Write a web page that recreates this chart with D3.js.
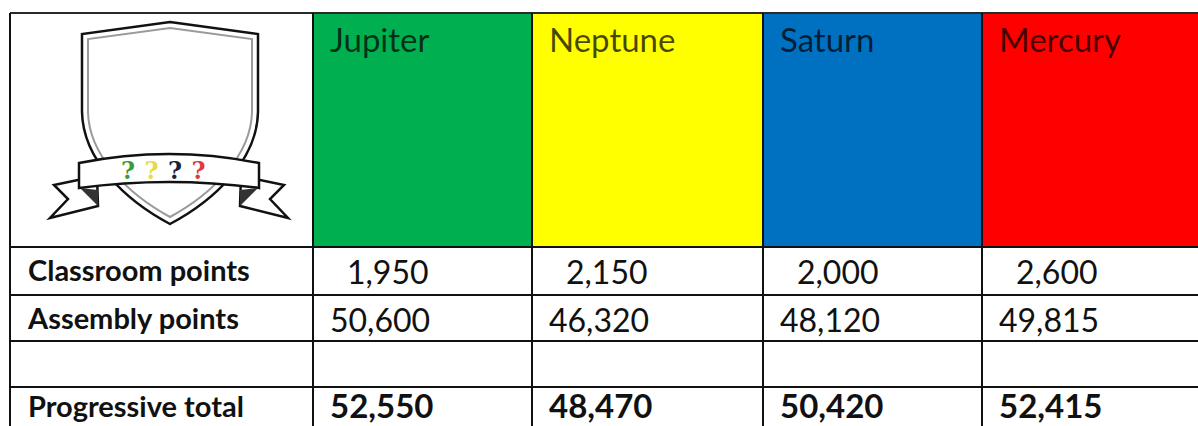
<!DOCTYPE html>
<html>
<head>
<meta charset="utf-8">
<script src="https://cdn.jsdelivr.net/npm/d3@7"></script>
<style>
  html, body { margin: 0; padding: 0; background: #fff; }
  svg { display: block; }
</style>
</head>
<body>
<div id="table-chart"></div>
<script>
// house points table
const planets = ["Jupiter", "Neptune", "Saturn", "Mercury"];
const houseColors = ["#00b050", "#ffff00", "#0070c0", "#ff0000"];
const rowLabels = ["Classroom points", "Assembly points", "", "Progressive total"];
const classroomPoints = [1950, 2150, 2000, 2600];
const assemblyPoints = [50600, 46320, 48120, 49815];
const blankRow = [null, null, null, null];
const progressiveTotals = [52550, 48470, 50420, 52415];
const crestMarks = ["?", "?", "?", "?"];
const crestMarkColors = ["#3c9a3c", "#e8d84a", "#1c1f3a", "#e23a3a"];

(function drawTable() {
  const W = 1198, H = 426;
  const rows = [classroomPoints, assemblyPoints, blankRow, progressiveTotals];

  // column / row geometry (layout only)
  const colKeys = ["label", ...planets];
  const colWidths = [303, 219, 231, 219, 240];
  const rowKeys = ["header", ...rowLabels.map((d, i) => "r" + i)];
  const rowHeights = [234, 48, 46, 46, 52];
  const left = 10, top = 13;

  const colLefts = colWidths.map((w, i) => left + d3.sum(colWidths.slice(0, i)));
  const rowTops = rowHeights.map((h, i) => top + d3.sum(rowHeights.slice(0, i)));
  const x = d3.scaleOrdinal().domain(colKeys).range(colLefts);
  const xw = d3.scaleOrdinal().domain(colKeys).range(colWidths);
  const y = d3.scaleOrdinal().domain(rowKeys).range(rowTops);
  const yh = d3.scaleOrdinal().domain(rowKeys).range(rowHeights);
  const fmt = d3.format(",");

  const svg = d3.select("#table-chart").append("svg")
    .attr("width", W).attr("height", H)
    .style("font-family", "Lato, 'Open Sans', sans-serif");

  svg.append("rect").attr("width", W).attr("height", H).attr("fill", "#fff");

  /* coloured house header cells */
  svg.append("g").selectAll("rect").data(planets).enter().append("rect")
    .attr("x", d => x(d)).attr("y", y("header"))
    .attr("width", d => xw(d)).attr("height", yh("header"))
    .attr("fill", (d, i) => houseColors[i]);

  svg.append("g").selectAll("text").data(planets).enter().append("text")
    .attr("x", d => x(d) + 17).attr("y", y("header") + 39)
    .style("font-size", "33px").attr("fill", "#000").attr("fill-opacity", 0.72)
    .text(d => d);

  /* row labels */
  svg.append("g").selectAll("text").data(rowLabels).enter().append("text")
    .attr("x", x("label") + 18)
    .attr("y", (d, i) => y("r" + i) + (i === 3 ? 30 : 34))
    .style("font-size", "29px").style("font-weight", "bold").attr("fill", "#111")
    .text(d => d);

  /* values */
  rows.forEach((vals, ri) => {
    const bold = ri === 3;
    svg.append("g").selectAll("text").data(vals).enter().append("text")
      .attr("x", (d, i) => x(planets[i]) + (ri === 0 ? 34 : 17))
      .attr("y", y("r" + ri) + (bold ? 31 : 37))
      .style("font-size", bold ? "33px" : "32px")
      .style("font-weight", bold ? "bold" : "normal")
      .attr("fill", "#111")
      .text(d => d == null ? "" : fmt(d));
  });

  /* grid lines */
  const grid = svg.append("g").attr("stroke", "#111").attr("stroke-width", 2);
  grid.selectAll("line.h").data(rowKeys.slice(1)).enter().append("line")
    .attr("x1", left).attr("x2", W)
    .attr("y1", d => y(d)).attr("y2", d => y(d));
  grid.append("line").attr("x1", left).attr("x2", W)
    .attr("y1", top).attr("y2", top).attr("stroke", "#2a2a2a");
  grid.selectAll("line.v").data(colKeys).enter().append("line")
    .attr("x1", d => x(d)).attr("x2", d => x(d))
    .attr("y1", top).attr("y2", H);

  /* crest: shield with banner */
  const crest = svg.append("g");
  const shield = "M170,22 L258,34 L258,112 C257,160 215,200 170,224 C125,200 83,160 82,112 L82,34 Z";
  const inner = "M170,28 L252,39 L252,112 C251,156 212,194 170,217 C128,194 89,156 88,112 L88,39 Z";
  crest.append("path").attr("d", shield).attr("fill", "#fff").attr("stroke", "#111").attr("stroke-width", 2.5);
  crest.append("path").attr("d", inner).attr("fill", "none").attr("stroke", "#9a9a9a").attr("stroke-width", 2);

  const tailL = "M97,176 L54,185 L68,199 L50,218 L98,206 Z";
  const tailR = "M241,176 L284,185 L270,199 L288,218 L240,206 Z";
  [tailL, tailR].forEach(p => crest.append("path").attr("d", p)
    .attr("fill", "#fff").attr("stroke", "#111").attr("stroke-width", 2.5).attr("stroke-linejoin", "miter"));
  crest.append("path").attr("d", "M80,188 L98,206 L98,190 Z").attr("fill", "#333");
  crest.append("path").attr("d", "M258,188 L240,206 L240,190 Z").attr("fill", "#333");

  crest.append("path")
    .attr("d", "M79,163 Q169,145 259,163 L259,188 Q169,176 79,188 Z")
    .attr("fill", "#fff").attr("stroke", "#111").attr("stroke-width", 2.5);

  crest.append("g").selectAll("text").data(crestMarks).enter().append("text")
    .attr("x", (d, i) => 128 + i * 23.5).attr("y", 179)
    .attr("text-anchor", "middle")
    .style("font-family", "'DejaVu Serif', serif").style("font-weight", "bold").style("font-size", "24px")
    .attr("fill", (d, i) => crestMarkColors[i])
    .text(d => d);
})();
</script>
</body>
</html>
